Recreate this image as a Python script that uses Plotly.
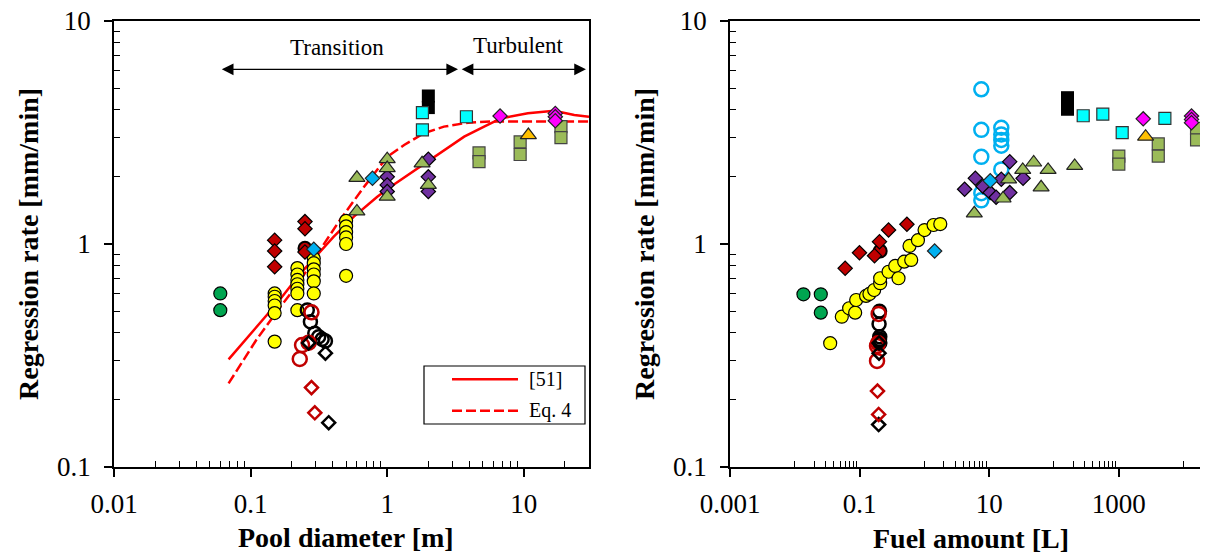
import numpy as np
import plotly.graph_objects as go

# page body has an 8px margin: figure is drawn 8px inside the window
OFF = 8
W, H = 1200, 548

# ---------------- Left plot: regression rate vs pool diameter ----------------
green_D = [0.06, 0.06]
green_r = [0.60, 0.505]

yellow_D = [0.15] * 6 + [0.22] * 7 + [0.29] * 6 + [0.5] * 6
yellow_r = [0.60, 0.58, 0.555, 0.53, 0.49, 0.365,
            0.78, 0.73, 0.69, 0.66, 0.63, 0.60, 0.505,
            0.86, 0.82, 0.77, 0.73, 0.68, 0.60,
            1.27, 1.20, 1.13, 1.07, 1.00, 0.72]

redd_D = [0.15, 0.15, 0.15, 0.25, 0.25, 0.25]
redd_r = [1.04, 0.93, 0.79, 1.26, 1.17, 0.92]

redc_D = [0.25]
redc_r = [0.956]

blued_D = [0.29, 0.78]
blued_r = [0.947, 1.97]

tri_D = [0.6, 0.6, 1.0, 1.0, 1.0, 1.8, 2.0]
tri_r = [1.98, 1.40, 2.40, 2.19, 1.63, 2.30, 1.84]

purp_D = [1.0, 1.0, 1.0, 2.0, 2.0, 2.0]
purp_r = [2.0, 1.84, 1.72, 2.40, 2.0, 1.72]

cyan_D = [1.81, 1.81, 3.8]
cyan_r = [3.88, 3.25, 3.72]

blk_D = [2.0, 2.0]
blk_r = [4.61, 4.09]

gsq_D = [4.7, 4.7, 9.4, 9.4, 18.7, 18.7]
gsq_r = [2.56, 2.34, 2.87, 2.52, 3.36, 3.00]

orng_D = [10.8]
orng_r = [3.08]

mag_D = [6.7, 17, 17, 17]
mag_r = [3.75, 3.85, 3.72, 3.57]

bkoc_D = [0.26, 0.274, 0.295, 0.315, 0.334, 0.353]
bkoc_r = [0.506, 0.448, 0.398, 0.384, 0.374, 0.367]

rdoc_D = [0.279, 0.238, 0.266, 0.229]
rdoc_r = [0.494, 0.352, 0.361, 0.305]

bkod_D = [0.266, 0.353, 0.373]
bkod_r = [0.36, 0.324, 0.158]

rdod_D = [0.279, 0.295]
rdod_r = [0.227, 0.175]

# model curves
ref51_D = [0.069, 0.111, 0.156, 0.232, 0.29, 0.406, 0.57, 0.846, 1.06, 1.66, 2.2,
           3.66, 5.12, 6.79, 10.7, 16.7, 23.4, 30]
ref51_r = [0.304, 0.426, 0.542, 0.739, 0.861, 1.078, 1.326, 1.63, 1.807, 2.185, 2.46,
           3.03, 3.36, 3.66, 3.855, 3.96, 3.79, 3.72]
eq4_D = [0.069, 0.11, 0.165, 0.22, 0.3, 0.45, 0.675, 1.0, 1.33, 1.86, 2.6, 3.9, 5.7, 30]
eq4_r = [0.237, 0.371, 0.523, 0.655, 0.88, 1.28, 1.80, 2.46, 2.78, 3.14, 3.36, 3.50, 3.54, 3.54]

# ---------------- Right plot: regression rate vs fuel amount ----------------
green_V = [0.0136, 0.0252, 0.0252]
green_rV = [0.595, 0.595, 0.492]

yellow_V = [0.0352, 0.0532, 0.069, 0.0855, 0.0886, 0.126, 0.142, 0.168, 0.208, 0.208,
            0.280, 0.355, 0.399, 0.489, 0.627, 0.590, 0.796, 1.007, 1.387, 1.762]
yellow_rV = [0.359, 0.472, 0.515, 0.492, 0.561, 0.585, 0.597, 0.622, 0.667, 0.702,
             0.751, 0.797, 0.702, 0.833, 0.848, 0.98, 1.04, 1.155, 1.217, 1.229]

redd_V = [0.0599, 0.0996, 0.170, 0.203, 0.28, 0.538]
redd_rV = [0.778, 0.914, 0.886, 1.024, 1.155, 1.226]

redc_V = [0.208]
redc_rV = [0.93]

blued_V = [1.44, 10.4]
blued_rV = [0.93, 1.92]

tri_V = [5.9, 16.4, 20.0, 33, 48.7, 63.4, 81.3, 209]
tri_rV = [1.373, 1.60, 1.95, 2.15, 2.32, 1.795, 2.15, 2.24]

purp_V = [4.18, 6.12, 8.05, 10.4, 12.8, 15.4, 20.8, 20.8, 33.4]
purp_rV = [1.76, 1.97, 1.81, 1.70, 1.62, 1.95, 2.34, 1.70, 1.97]

lboc_V = [7.57] * 5 + [15.4] * 5
lboc_rV = [4.94, 3.25, 2.46, 1.69, 1.57, 3.32, 3.10, 2.93, 2.76, 2.16]

cyan_V = [283, 568, 1132, 5160]
cyan_rV = [3.76, 3.82, 3.16, 3.66]

blk_V = [162, 162]
blk_rV = [4.53, 4.02]

gsq_V = [1004, 1004, 4080, 4080, 15900, 15900]
gsq_rV = [2.48, 2.28, 2.81, 2.48, 3.30, 2.93]

orng_V = [2600]
orng_rV = [3.03]

mag_V = [2390, 13300, 13300, 13300]
mag_rV = [3.64, 3.75, 3.62, 3.50]

bkoc_V = [0.203, 0.2, 0.203, 0.205, 0.2, 0.205]
bkoc_rV = [0.50, 0.438, 0.374, 0.384, 0.367, 0.36]

rdoc_V = [0.197, 0.186, 0.193, 0.186]
rdoc_rV = [0.486, 0.349, 0.359, 0.299]

bkod_V = [0.2, 0.2, 0.197]
bkod_rV = [0.36, 0.324, 0.155]

rdod_V = [0.189, 0.197]
rdod_rV = [0.219, 0.172]

# ---------------- styling ----------------
FONT = "Liberation Serif"
C_GREEN = "#00A550"
C_YEL = "#FFFF00"
C_DRED = "#C00000"
C_BLUE = "#00B0F0"
C_OLIVE = "#9BBB59"
C_PURP = "#7030A0"
C_CYAN = "#00FFFF"
C_MAG = "#FF00FF"
C_ORNG = "#FFC000"

fig = go.Figure()


def add_pts(x, y, sym, size, color, xa, ya, lc="black", lw=1.2):
    fig.add_trace(go.Scatter(
        x=x, y=y, mode="markers", xaxis=xa, yaxis=ya, showlegend=False,
        marker=dict(symbol=sym, size=size, color=color,
                    line=dict(color=lc, width=lw))))


def add_open(x, y, sym, size, color, xa, ya, lw=2.5):
    fig.add_trace(go.Scatter(
        x=x, y=y, mode="markers", xaxis=xa, yaxis=ya, showlegend=False,
        marker=dict(symbol=sym, size=size, color=color,
                    line=dict(color=color, width=lw))))


# curves (left)
fig.add_trace(go.Scatter(x=ref51_D, y=ref51_r, mode="lines", name="[51]",
                         line=dict(color="#FF0000", width=2.5), xaxis="x", yaxis="y",
                         showlegend=False))
fig.add_trace(go.Scatter(x=eq4_D, y=eq4_r, mode="lines", name="Eq. 4",
                         line=dict(color="#FF0000", width=2.5, dash="10px,4px"),
                         xaxis="x", yaxis="y", showlegend=False))

for xa, ya, d in [("x", "y", dict(g=(green_D, green_r), yl=(yellow_D, yellow_r),
                                  rd=(redd_D, redd_r), rc=(redc_D, redc_r),
                                  bkoc=(bkoc_D, bkoc_r), rdoc=(rdoc_D, rdoc_r),
                                  bkod=(bkod_D, bkod_r), rdod=(rdod_D, rdod_r),
                                  pu=(purp_D, purp_r), tr=(tri_D, tri_r),
                                  bk=(blk_D, blk_r), cy=(cyan_D, cyan_r),
                                  gs=(gsq_D, gsq_r), og=(orng_D, orng_r),
                                  mg=(mag_D, mag_r), bd=(blued_D, blued_r))),
                  ("x2", "y2", dict(g=(green_V, green_rV), yl=(yellow_V, yellow_rV),
                                    rd=(redd_V, redd_rV), rc=(redc_V, redc_rV),
                                    bkoc=(bkoc_V, bkoc_rV), rdoc=(rdoc_V, rdoc_rV),
                                    bkod=(bkod_V, bkod_rV), rdod=(rdod_V, rdod_rV),
                                    lb=(lboc_V, lboc_rV),
                                    pu=(purp_V, purp_rV), tr=(tri_V, tri_rV),
                                    bk=(blk_V, blk_rV), cy=(cyan_V, cyan_rV),
                                    gs=(gsq_V, gsq_rV), og=(orng_V, orng_rV),
                                    mg=(mag_V, mag_rV), bd=(blued_V, blued_rV)))]:
    add_pts(*d["g"], "circle", 13, C_GREEN, xa, ya)
    add_pts(*d["yl"], "circle", 13, C_YEL, xa, ya)
    add_pts(*d["rc"], "circle", 13, C_DRED, xa, ya, lc="black", lw=2)
    add_pts(*d["rd"], "diamond", 11, C_DRED, xa, ya)
    add_open(*d["bkoc"], "circle-open", 13, "black", xa, ya)
    add_open(*d["rdoc"], "circle-open", 14, C_DRED, xa, ya)
    add_open(*d["bkod"], "diamond-open", 10, "black", xa, ya)
    add_open(*d["rdod"], "diamond-open", 10, C_DRED, xa, ya)
    if "lb" in d:
        add_open(*d["lb"], "circle-open", 14, C_BLUE, xa, ya)
    add_pts(*d["pu"], "diamond", 11, C_PURP, xa, ya)
    add_pts(*d["tr"], "triangle-up", 14, C_OLIVE, xa, ya, lc="#222")
    add_pts(*d["bk"], "square", 13, "black", xa, ya, lc="black", lw=0)
    add_pts(*d["cy"], "square", 12, C_CYAN, xa, ya, lc="#333")
    add_pts(*d["gs"], "square", 12, C_OLIVE, xa, ya, lc="#444")
    add_pts(*d["og"], "triangle-up", 14, C_ORNG, xa, ya, lc="#222")
    add_pts(*d["mg"], "diamond", 11, C_MAG, xa, ya, lc="#222")
    add_pts(*d["bd"], "diamond", 11, C_BLUE, xa, ya, lc="#222")

# ---------------- axes ----------------
tickfont = dict(family=FONT, size=27, color="black")


def minor_vals(exps, ks):
    return [k * 10.0 ** e for e in exps for k in ks]


def dom_x(a, b):
    return [(a - OFF) / W, (b - OFF) / W]


def dom_y(top, bottom):
    return [1 - (bottom - OFF) / H, 1 - (top - OFF) / H]


def log_axis(rng, tv, tt, minor_tv, domain, anchor, standoff, tlen):
    return dict(type="log", range=rng, domain=domain, anchor=anchor, automargin=False,
                tickmode="array", tickvals=tv, ticktext=tt,
                showline=True, linecolor="black", linewidth=1.5, mirror=True,
                ticks="outside", ticklen=tlen, tickwidth=1.5, tickcolor="black",
                showgrid=False, zeroline=False, tickfont=tickfont,
                ticklabelstandoff=standoff, ticklabeloverflow="allow",
                minor=dict(ticks="inside", ticklen=6, tickwidth=1.2, tickcolor="black",
                           tickmode="array", tickvals=minor_tv, showgrid=False))


ydom = dom_y(21, 467)
y_tv = [0.1, 1, 10]
y_tt = ["0.1", "1", "10"]
y_minor = minor_vals([-1, 0], range(2, 10))

fig.update_layout(
    xaxis=log_axis([-2, np.log10(30)], [0.01, 0.1, 1, 10], ["0.01", "0.1", "1", "10"],
                   minor_vals([-2, -1, 0, 1], range(2, 10)),
                   dom_x(114, 589), "y", 4, 8),
    yaxis=log_axis([-1, 1], y_tv, y_tt, y_minor, ydom, "x", 8, 8),
    xaxis2=log_axis([-3, np.log10(20000)], [0.001, 0.1, 10, 1000],
                    ["0.001", "0.1", "10", "1000"],
                    minor_vals([-2, 0, 2], range(1, 10)) + [1e4],
                    dom_x(730, 1203), "y2", 4, 8),
    yaxis2=log_axis([-1, 1], y_tv, y_tt, y_minor, ydom, "x2", 8, 8),
)

# ---------------- text & annotations ----------------
def P(xp, yp):
    return (xp - OFF) / W, 1 - (yp - OFF) / H


annots = []
title_font = dict(family=FONT, size=28, color="black")
for (xp, yp, txt, ang) in [(28, 244, "<b>Regression rate [mm/min]</b>", -90),
                           (644, 244, "<b>Regression rate [mm/min]</b>", -90),
                           (346, 537, "<b>Pool diameter [m]</b>", 0),
                           (971, 538, "<b>Fuel amount [L]</b>", 0)]:
    x, y = P(xp, yp)
    annots.append(dict(x=x, y=y, xref="paper", yref="paper", text=txt, showarrow=False,
                       textangle=ang, font=title_font, xanchor="center", yanchor="middle"))

reg_font = dict(family=FONT, size=23, color="black")
for (xp, yp, txt) in [(337, 47, "Transition"), (518, 46, "Turbulent")]:
    x, y = P(xp, yp)
    annots.append(dict(x=x, y=y, xref="paper", yref="paper", text=txt, showarrow=False,
                       font=reg_font, xanchor="center", yanchor="middle"))

# regime arrows (double headed)
arrow_y = P(0, 69.3)[1]
for (a, b) in [(0.06, 3.3), (3.42, 28.5)]:
    annots.append(dict(x=np.log10(b), y=arrow_y, xref="x", yref="paper",
                       ax=np.log10(a), ay=0, axref="x", ayref="pixel",
                       text="", showarrow=True, arrowhead=2, arrowside="end+start",
                       arrowsize=1.8, arrowwidth=1.3, arrowcolor="black",
                       standoff=0, startstandoff=0))

# legend (drawn)
leg_font = dict(family=FONT, size=20, color="black")
for (yp, txt) in [(379, "[51]"), (410, "Eq. 4")]:
    x, y = P(527, yp)
    annots.append(dict(x=x, y=y, xref="paper", yref="paper", text=txt, showarrow=False,
                       font=leg_font, xanchor="left", yanchor="middle"))

shapes = []
x0, y0 = P(424, 424)
x1, y1 = P(585, 366)
shapes.append(dict(type="rect", xref="paper", yref="paper", x0=x0, y0=y0, x1=x1, y1=y1,
                   line=dict(color="black", width=1.2), fillcolor="white", layer="above"))
for (yp, dash) in [(379.3, "solid"), (410.7, "10px,4px")]:
    a0, b0 = P(452, yp)
    a1, b1 = P(518, yp)
    shapes.append(dict(type="line", xref="paper", yref="paper", x0=a0, y0=b0, x1=a1, y1=b1,
                       line=dict(color="#FF0000", width=2.5, dash=dash), layer="above"))

fig.update_layout(
    width=W, height=H, autosize=False,
    margin=dict(l=0, r=0, t=0, b=0),
    paper_bgcolor="white", plot_bgcolor="white",
    annotations=annots, shapes=shapes, showlegend=False,
    font=dict(family=FONT, color="black"),
)

fig.write_html("out.html")
